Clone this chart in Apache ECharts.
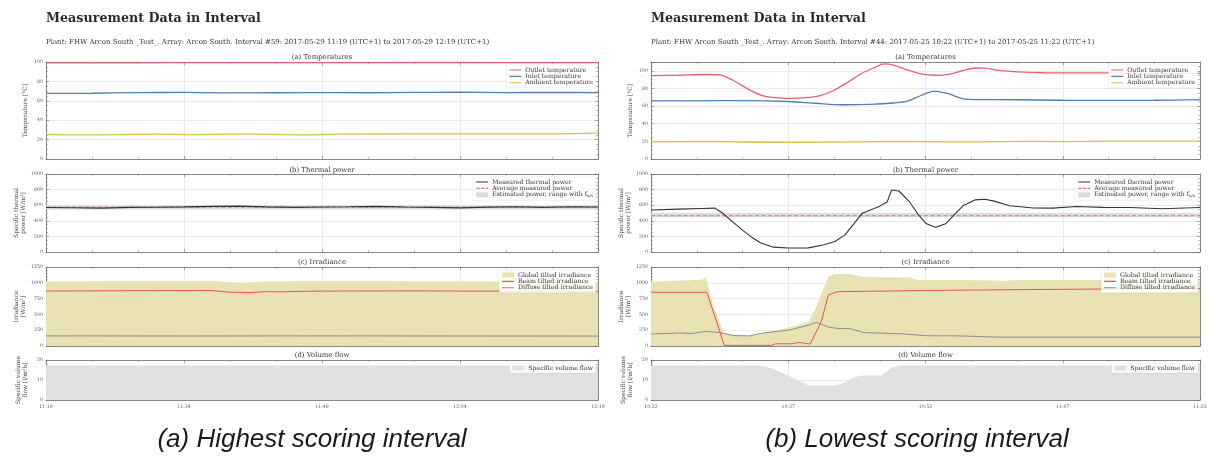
<!DOCTYPE html>
<html>
<head>
<meta charset="utf-8">
<script src="https://cdn.jsdelivr.net/npm/echarts@6/dist/echarts.min.js"></script>
<style>
  html, body { margin: 0; padding: 0; background: #fff; }
  #chart { width: 1212px; height: 458px; }
</style>
</head>
<body>
<div id="chart"></div>
<script>
// Minutes since the start of each one-hour interval, tick labels every 15 min
const xTicksA = ['11:19', '11:34', '11:49', '12:04', '12:19'];
const xTicksB = ['10:22', '10:37', '10:52', '11:07', '11:22'];

// ---------- (a) Interval #59, 2017-05-29 ----------
const outletA = [[0, 99.0], [10, 99.2], [20, 99.4], [30, 99.3], [40, 99.5], [50, 99.4], [60, 99.3]];
const inletA = [[0, 67.6], [5, 67.8], [10, 68.4], [15, 68.6], [20, 68.1], [25, 68.3], [30, 68.5], [35, 68.3],
  [40, 68.6], [45, 68.8], [50, 68.5], [55, 68.6], [60, 68.5]];
const ambientA = [[0, 25.3], [3, 24.8], [8, 25.2], [12, 25.6], [16, 25.2], [20, 25.6], [25, 25.4], [28, 24.9],
  [32, 25.6], [40, 25.8], [46, 25.9], [50, 26.0], [55, 25.8], [58, 26.5], [60, 26.6]];
const powerA = [[0, 570], [3, 568], [6, 563], [9, 572], [12, 574], [15, 578], [18, 585], [21, 588], [24, 578],
  [27, 572], [30, 576], [33, 580], [36, 585], [39, 576], [42, 572], [45, 566], [48, 575], [51, 580], [54, 572],
  [57, 580], [60, 576]];
const avgPowerA = 575;
const estRangeA = [545, 600];
const globalA = [[0, 1020], [4, 1025], [8, 1030], [12, 1028], [16, 1030], [18, 1032], [20, 1010], [22, 1005],
  [24, 1022], [28, 1028], [32, 1030], [36, 1028], [40, 1026], [44, 1024], [48, 1020], [52, 1022], [56, 1018], [60, 1015]];
const beamA = [[0, 870], [5, 872], [10, 875], [15, 878], [18, 876], [20, 852], [22, 845], [24, 860], [26, 858],
  [28, 866], [32, 870], [40, 872], [48, 868], [52, 870], [56, 868], [60, 860]];
const diffuseA = [[0, 160], [15, 158], [30, 160], [45, 158], [60, 157]];
const flowA = [[0, 17.2], [30, 17.2], [60, 17.2]];

// ---------- (b) Interval #44, 2017-05-25 ----------
const outletB = [[0, 94.5], [3, 95], [6, 95.8], [7.5, 95.5], [9, 89], [10.5, 80], [12, 72.5], [13.5, 69.5],
  [15, 68.8], [17, 69.5], [18.5, 72], [20, 78], [21.5, 87], [23, 97], [24.5, 104], [25.5, 107.8], [26.5, 106.5],
  [28, 101], [29.5, 96.5], [31, 95], [32.5, 96], [34, 100], [35.5, 103.2], [36.5, 103], [38, 100.5], [40, 98.8],
  [43, 97.8], [50, 97.6], [55, 97], [60, 97.2]];
const inletB = [[0, 66], [5, 66], [10, 66.2], [15, 65.2], [18, 63.2], [21, 61.5], [24, 62], [26.5, 63.5],
  [28, 65.5], [29.5, 72], [31, 77], [32.5, 74], [34, 68.5], [36, 67.3], [40, 67.2], [45, 66.6], [50, 66.5],
  [55, 66.6], [60, 67.3]];
const ambientB = [[0, 19.5], [5, 19.8], [10, 19.3], [15, 18.8], [20, 19.2], [25, 19.8], [30, 19.6], [35, 19.4],
  [40, 20], [45, 19.8], [50, 20.2], [55, 20.3], [60, 20.3]];
const powerB = [[0, 538], [3, 550], [5.5, 558], [7, 562], [7.8, 500], [9, 380], [10, 280], [11, 190], [12, 115],
  [13.4, 62], [15, 52], [17.2, 53], [18.8, 90], [20.1, 135], [21.2, 220], [23.1, 498], [25, 588], [25.8, 640],
  [26.3, 795], [27.1, 782], [28.2, 650], [29.3, 465], [30.1, 362], [31.1, 318], [32.2, 362], [33.3, 498],
  [34.1, 592], [35.4, 668], [36.5, 677], [37.5, 652], [39.2, 592], [41.8, 565], [43.9, 562], [46.5, 583],
  [49.4, 572], [52.4, 570], [55.8, 555], [60, 570]];
const avgPowerB = 465;
const estRangeB = [445, 500];
const globalB = [[0, 1020], [2, 1030], [4, 1040], [5.5, 1050], [6, 1085], [6.9, 600], [8, 195], [9.5, 165],
  [11, 160], [12.5, 210], [15, 290], [17.2, 380], [18, 600], [19.4, 1100], [20.2, 1140], [21.7, 1140],
  [23.2, 1090], [28.3, 1085], [29.2, 1045], [33, 1045], [37.5, 1035], [38.5, 1030], [40, 1045], [45, 1043],
  [50, 1040], [55, 1038], [60, 1035]];
const beamB = [[0, 850], [6.1, 850], [7.2, 375], [8, 10], [13.2, 10], [13.6, 35], [15.3, 35], [16.2, 55],
  [16.8, 45], [17.4, 30], [18.6, 380], [19.4, 810], [20.4, 860], [25, 868], [30, 878], [40, 892], [50, 902], [60, 908]];
const diffuseB = [[0, 190], [3, 205], [4.5, 198], [6, 232], [7.5, 212], [8.2, 190], [9, 165], [10.8, 160],
  [12.2, 205], [15.1, 250], [17.2, 330], [18.1, 375], [19.4, 300], [20.4, 278], [21.7, 275], [23.3, 212],
  [27.5, 192], [30.2, 162], [33.7, 160], [37.9, 140], [45, 140], [60, 140]];
const flowB = [[0, 17.3], [11.9, 17.3], [13.3, 15.7], [15, 12.3], [17.2, 7.3], [20.1, 7.3], [21, 8.4],
  [22.3, 11.5], [23.1, 12.3], [25.2, 12.3], [26.3, 16.2], [27.4, 17.2], [60, 17.3]];

// ---------- texts ----------
const mainTitle = 'Measurement Data in Interval';
const subtitleA = 'Plant: FHW Arcon South _Test_. Array: Arcon South. Interval #59: 2017-05-29 11:19 (UTC+1) to 2017-05-29 12:19 (UTC+1)';
const subtitleB = 'Plant: FHW Arcon South _Test_. Array: Arcon South. Interval #44: 2017-05-25 10:22 (UTC+1) to 2017-05-25 11:22 (UTC+1)';
const captionA = '(a) Highest scoring interval';
const captionB = '(b) Lowest scoring interval';
const plotTitles = ['(a) Temperatures', '(b) Thermal power', '(c) Irradiance', '(d) Volume flow'];

// ---------- style ----------
const SERIF = '"DejaVu Serif", serif';
const C = {
  outlet: '#e8606e', inlet: '#4f7fb8', ambient: '#d6c447',
  power: '#333333', avg: '#f07078', band: '#dcdcdc',
  global: '#e8e1b2', beam: '#e8505a', diffuse: '#8d8d99', flow: '#e0e0e0',
  frame: '#6e6e6e', grid: '#e4e4e4', tick: '#555555'
};
// Legend glyphs: a short solid stroke and a dashed stroke (corner points fix the 24x10 box)
const ICON_LINE = 'path://M0,0L0.01,0M0,3.9H24V6.1H0ZM24,10L23.99,10';
const ICON_DASH = 'path://M0,0L0.01,0M0,3.9H7V6.1H0ZM9.5,3.9H16.5V6.1H9.5ZM19,3.9H24V6.1H19ZM24,10L23.99,10';

const W = 1212;
const panels = [
  { left: 46, width: 552, ticks: xTicksA, tempMax: 100, subtitle: subtitleA, caption: captionA, captionX: 312,
    d: { outlet: outletA, inlet: inletA, ambient: ambientA, power: powerA, avg: avgPowerA, range: estRangeA,
         global: globalA, beam: beamA, diffuse: diffuseA, flow: flowA } },
  { left: 651, width: 549, ticks: xTicksB, tempMax: 110, subtitle: subtitleB, caption: captionB, captionX: 917,
    d: { outlet: outletB, inlet: inletB, ambient: ambientB, power: powerB, avg: avgPowerB, range: estRangeB,
         global: globalB, beam: beamB, diffuse: diffuseB, flow: flowB } }
];
const rows = [
  { top: 62, height: 97, max: null, interval: 20, minor: 4, name: 'Temperature [°C]', gap: 17, titleY: 57 },
  { top: 174, height: 78, max: 1000, interval: 200, minor: 4, name: 'Specific thermal\npower [W/m²]', gap: 15, titleY: 170 },
  { top: 267, height: 79, max: 1250, interval: 250, minor: 5, name: 'Irradiance\n[W/m²]', gap: 15, titleY: 262 },
  { top: 360, height: 40, max: 20, interval: 10, minor: 5, name: 'Specific volume\nflow [l/m²h]', gap: 17, titleY: 355 }
];

const grids = [], xAxes = [], yAxes = [], series = [], legends = [], graphics = [];

function text(x, y, str, font, fill, align) {
  graphics.push({
    type: 'text', x: x, y: y, silent: true,
    style: { text: str, font: font, fill: fill, align: align, verticalAlign: 'middle',
             textAlign: align, textVerticalAlign: 'middle' }
  });
}
const lineItem = (name, color) => ({ name: name, icon: ICON_LINE, itemStyle: { color: color } });
const rectItem = (name, color) => ({ name: name, icon: 'rect', itemStyle: { color: color } });

panels.forEach((p) => {
  text(p.left, 19, mainTitle, 'bold 12.7px ' + SERIF, '#2b2b2b', 'left');
  text(p.left, 42, p.subtitle, '7px ' + SERIF, '#333', 'left');
  text(p.captionX, 440, p.caption, 'italic 26px "Liberation Sans", Arial, sans-serif', '#1a1a1a', 'center');

  rows.forEach((r, ri) => {
    const g = grids.length;
    grids.push({ left: p.left, top: r.top, width: p.width, height: r.height, containLabel: false });
    text(p.left + p.width / 2, r.titleY, plotTitles[ri], '6.9px ' + SERIF, '#333', 'center');

    const isBottom = ri === rows.length - 1;
    const xBase = {
      type: 'value', gridIndex: g, min: 0, max: 60, interval: 15,
      axisLine: { show: true, onZero: false, lineStyle: { color: C.frame, width: 0.8 } },
      axisTick: { show: true, inside: true, length: 3, lineStyle: { color: C.frame, width: 0.6 } },
      minorTick: { show: true, splitNumber: 3, length: 1.8, lineStyle: { color: C.frame, width: 0.5 } }
    };
    xAxes.push(Object.assign({}, xBase, {
      position: 'bottom',
      splitLine: { show: true, lineStyle: { color: C.grid, width: 0.8 } },
      axisLabel: {
        show: isBottom, fontSize: 4.7, fontFamily: SERIF, color: C.tick, margin: 4,
        formatter: v => p.ticks[Math.round(v / 15)] || ''
      }
    }));
    xAxes.push(Object.assign({}, xBase, {
      position: 'top', splitLine: { show: false }, axisLabel: { show: false }
    }));

    const yMax = r.max === null ? p.tempMax : r.max;
    const yBase = {
      type: 'value', gridIndex: g, min: 0, max: yMax, interval: r.interval,
      axisLine: { show: true, onZero: false, lineStyle: { color: C.frame, width: 0.8 } },
      axisTick: { show: true, inside: true, length: 3, lineStyle: { color: C.frame, width: 0.6 } },
      minorTick: { show: true, splitNumber: r.minor, length: 1.8, lineStyle: { color: C.frame, width: 0.5 } }
    };
    yAxes.push(Object.assign({}, yBase, {
      position: 'left',
      name: r.name, nameLocation: 'middle', nameRotate: 90, nameGap: r.gap,
      nameTextStyle: { fontSize: 6, fontFamily: SERIF, color: '#444', lineHeight: 7 },
      splitLine: { show: true, lineStyle: { color: C.grid, width: 0.8 } },
      axisLabel: {
        fontSize: 4.7, fontFamily: SERIF, color: C.tick, margin: 3,
        showMaxLabel: yMax % r.interval === 0,
        formatter: v => String(v)
      }
    }));
    yAxes.push(Object.assign({}, yBase, {
      position: 'right', splitLine: { show: false }, axisLabel: { show: false }
    }));

    const xi = 2 * g, yi = 2 * g;
    const line = (name, data, color, width, extra) => series.push(Object.assign({
      type: 'line', name: name, data: data, xAxisIndex: xi, yAxisIndex: yi,
      symbol: 'none', silent: true, animation: false,
      itemStyle: { color: color },
      lineStyle: { color: color, width: width }
    }, extra || {}));
    const area = (name, data, color, extra) => line(name, data, color, 0,
      Object.assign({ areaStyle: { color: color, opacity: 1 } }, extra || {}));

    const legendBase = {
      orient: 'vertical', top: r.top + 3, right: W - (p.left + p.width) + 2,
      itemWidth: 12, itemHeight: 5, itemGap: 0.4, padding: [2, 3, 2, 3],
      backgroundColor: 'rgba(255,255,255,0.85)', borderColor: 'rgba(0,0,0,0.10)', borderWidth: 0.6,
      selectedMode: false, symbolKeepAspect: true,
      textStyle: { fontSize: 6.2, fontFamily: SERIF, color: '#333', padding: [0, 0, 0, -1] }
    };

    if (ri === 0) {
      line('Outlet temperature', p.d.outlet, C.outlet, 1.3, { smooth: 0.3 });
      line('Inlet temperature', p.d.inlet, C.inlet, 1.3, { smooth: 0.3 });
      line('Ambient temperature', p.d.ambient, C.ambient, 1.3, { smooth: 0.3 });
      legends.push(Object.assign({}, legendBase, {
        data: [
          lineItem('Outlet temperature', C.outlet),
          lineItem('Inlet temperature', C.inlet),
          lineItem('Ambient temperature', C.ambient)
        ]
      }));
    } else if (ri === 1) {
      area('Estimated power, range with f', [[0, p.d.range[1]], [60, p.d.range[1]]], C.band,
        { areaStyle: { color: C.band, opacity: 1, origin: p.d.range[0] } });
      line('Average measured power', [[0, p.d.avg], [60, p.d.avg]], C.avg, 1, {
        lineStyle: { color: C.avg, width: 1, type: [4, 2.5] }
      });
      line('Measured thermal power', p.d.power, C.power, 1.1);
      legends.push(Object.assign({}, legendBase, {
        data: [
          lineItem('Measured thermal power', C.power),
          { name: 'Average measured power', icon: ICON_DASH, itemStyle: { color: C.avg } },
          rectItem('Estimated power, range with f', C.band)
        ],
        formatter: n => n === 'Estimated power, range with f' ? n + '{sub|u/s}' : n,
        textStyle: Object.assign({}, legendBase.textStyle, {
          rich: { sub: { fontSize: 4, fontFamily: SERIF, color: '#333', verticalAlign: 'bottom', padding: [3, 0, 0, 0] } }
        })
      }));
    } else if (ri === 2) {
      area('Global tilted irradiance', p.d.global, C.global);
      line('Diffuse tilted irradiance', p.d.diffuse, C.diffuse, 1);
      line('Beam tilted irradiance', p.d.beam, C.beam, 1);
      legends.push(Object.assign({}, legendBase, {
        data: [
          rectItem('Global tilted irradiance', C.global),
          lineItem('Beam tilted irradiance', C.beam),
          lineItem('Diffuse tilted irradiance', C.diffuse)
        ]
      }));
    } else {
      area('Specific volume flow', p.d.flow, C.flow);
      legends.push(Object.assign({}, legendBase, {
        data: [rectItem('Specific volume flow', C.flow)]
      }));
    }
  });
});

const chart = echarts.init(document.getElementById('chart'), null, { renderer: 'canvas' });
chart.setOption({
  animation: false,
  backgroundColor: '#ffffff',
  grid: grids, xAxis: xAxes, yAxis: yAxes,
  legend: legends, series: series, graphic: graphics
});
</script>
</body>
</html>
